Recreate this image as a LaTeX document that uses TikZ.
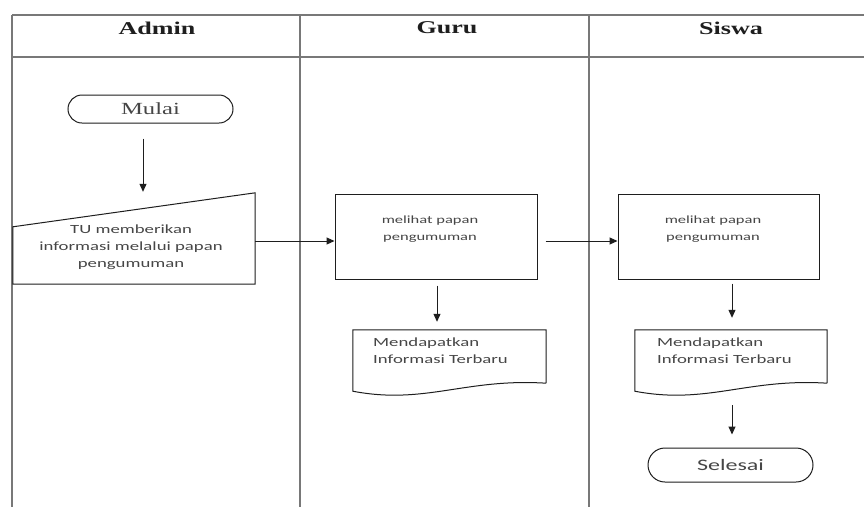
\documentclass[tikz,border=0pt]{standalone}
\usepackage{fontspec}
\usetikzlibrary{arrows.meta,shapes.misc,calc}
\newfontfamily\bodyfont[FakeStretch=1.5]{Carlito}
\newfontfamily\headfont[FakeStretch=1.45]{Liberation Serif}
\definecolor{lanegray}{RGB}{120,120,120}
\definecolor{ink}{RGB}{30,30,30}
\definecolor{txt}{RGB}{70,70,70}
\tikzset{
  lane/.style={draw=lanegray, line width=1.4pt},
  hdr/.style={font=\headfont\bfseries\fontsize{18}{20}\selectfont, text=ink},
  shp/.style={draw=ink, line width=1pt},
  terminal/.style={rounded rectangle, draw=ink, line width=1pt, inner sep=0pt},
  box/.style={rectangle, draw=ink, line width=1pt, inner sep=0pt},
  ghost/.style={rectangle, inner sep=0pt},
  body/.style={font=\bodyfont\fontsize{12.5}{17}\selectfont, text=txt, inner sep=0pt},
  smallbody/.style={font=\bodyfont\fontsize{11}{17}\selectfont, text=txt, inner sep=0pt},
  arr/.style={draw=ink, line width=1pt, -{Triangle[length=8pt,width=7pt]}}
}
\begin{document}
\begin{tikzpicture}[x=1pt,y=-1pt]
\path[use as bounding box, fill=white] (0,0) rectangle (864,507);
% swimlane frame
\coordinate (tl) at (12,15);
\coordinate (tr) at (864,15);
\coordinate (hl) at (12,57);
\coordinate (hr) at (864,57);
\coordinate (l0b) at (12,507);
\coordinate (l1t) at (300,15);
\coordinate (l1b) at (300,507);
\coordinate (l2t) at (589,15);
\coordinate (l2b) at (589,507);
\draw[lane] (tl) -- (tr);
\draw[lane] (hl) -- (hr);
\draw[lane] (tl) -- (l0b);
\draw[lane] (l1t) -- (l1b);
\draw[lane] (l2t) -- (l2b);
\node[hdr] (hA) at (157,28) {Admin};
\node[hdr] (hG) at (447,28) {Guru};
\node[hdr] (hS) at (731,28) {Siswa};

% Admin lane
\node[terminal, minimum width=165pt, minimum height=28pt,
      font=\headfont\fontsize{17}{19}\selectfont, text=txt] (mulai) at (150.5,109) {Mulai};
\node[ghost, minimum width=242pt, minimum height=91pt] (tu) at (134,238.5) {};
\draw[shp] (tu.north east) -- (tu.south east) -- (tu.south west) -- ($(tu.north west)+(0,34)$) -- cycle;
\node[body, align=center] (tutext) at (131,247) {TU memberikan\\informasi melalui papan\\pengumuman};
\draw[arr] ([xshift=-7.5pt,yshift=-15pt]mulai.south) -- ([xshift=9pt,yshift=1pt]tu.north);

% Guru lane
\node[box, minimum width=202pt, minimum height=85pt] (g1) at (436,236.5) {};
\node[smallbody, align=center] (g1text) at (430,229) {melihat papan\\pengumuman};
\node[ghost, minimum width=193pt, minimum height=53pt] (gd) at (449.5,356.5) {};
\draw[shp] (gd.south east) -- (gd.north east) -- (gd.north west) -- ($(gd.south west)+(0,8)$)
  .. controls (425,405) and (465,378) .. (gd.south east);
\node[body, align=left, anchor=north west] (gdtext) at (373,338) {Mendapatkan\\Informasi Terbaru};

% Siswa lane
\node[box, minimum width=201pt, minimum height=85pt] (s1) at (718.5,236.5) {};
\node[smallbody, align=center] (s1text) at (713,229) {melihat papan\\pengumuman};
\node[ghost, minimum width=192pt, minimum height=53pt] (sd) at (731,356.5) {};
\draw[shp] (sd.south east) -- (sd.north east) -- (sd.north west) -- ($(sd.south west)+(0,8)$)
  .. controls (707,405) and (747,378) .. (sd.south east);
\node[body, align=left, anchor=north west] (sdtext) at (657,338) {Mendapatkan\\Informasi Terbaru};
\node[terminal, minimum width=165pt, minimum height=34pt,
      font=\bodyfont\fontsize{16}{18}\selectfont, text=txt] (selesai) at (730.5,465) {Selesai};

% connectors
\draw[arr] (tu.east |- 0,241) -- (g1.west |- 0,241);
\draw[arr] ([xshift=8pt]g1.east |- 0,241) -- (s1.west |- 0,241);
\draw[arr] ([xshift=1pt,yshift=-6pt]g1.south) -- ([xshift=-12.5pt,yshift=8pt]gd.north);
\draw[arr] ([xshift=13.5pt,yshift=-4pt]s1.south) -- ([xshift=1pt,yshift=12pt]sd.north);
\draw[arr] ([xshift=1pt,yshift=-22pt]sd.south) -- ([xshift=1.5pt,yshift=13pt]selesai.north);
\end{tikzpicture}
\end{document}
